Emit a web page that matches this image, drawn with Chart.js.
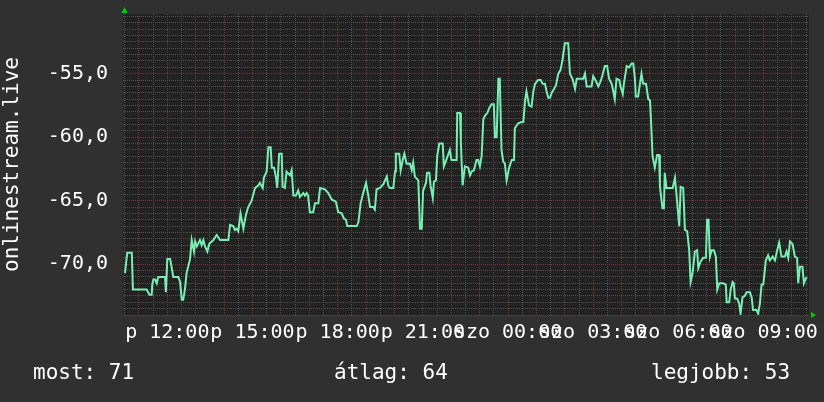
<!DOCTYPE html>
<html lang="hu">
<head>
<meta charset="utf-8">
<title>onlinestream.live</title>
<script src="https://cdn.jsdelivr.net/npm/chart.js@4.4.1/dist/chart.umd.min.js"></script>
<style>
  html, body { margin: 0; padding: 0; background: #303030; }
  #wrap { width: 824px; height: 402px; }
</style>
</head>
<body>
<div id="wrap"><canvas id="signalChart" width="824" height="402"></canvas></div>
<script>
// ===== DATA =====
// idő: órák péntek 0:00-tól számolva (24 felett = szombat)
const times = [
  10.51, 10.55, 10.59, 10.75, 10.79, 11.27, 11.37, 11.45, 11.47, 11.51,
  11.57, 11.63, 11.68, 11.92, 11.95, 12.00, 12.10, 12.15, 12.21, 12.39,
  12.45, 12.51, 12.56, 12.62, 12.68, 12.80, 12.86, 12.94, 12.98, 13.04,
  13.15, 13.21, 13.27, 13.33, 13.41, 13.48, 13.62, 13.74, 13.86, 14.15,
  14.21, 14.32, 14.38, 14.44, 14.50, 14.58, 14.68, 14.77, 14.85, 14.97,
  15.09, 15.20, 15.26, 15.36, 15.40, 15.50, 15.56, 15.64, 15.68, 15.76,
  15.83, 15.87, 15.94, 16.03, 16.06, 16.14, 16.20, 16.32, 16.38, 16.44,
  16.53, 16.61, 16.67, 16.79, 16.85, 16.91, 16.96, 17.02, 17.14, 17.20,
  17.32, 17.38, 17.55, 17.67, 17.79, 17.94, 18.02, 18.14, 18.22, 18.29,
  18.34, 18.67,
  18.73, 18.81, 18.90, 19.00, 19.08, 19.14, 19.25, 19.31, 19.37, 19.49,
  19.61, 19.73, 19.78, 19.84, 19.96, 20.02, 20.05, 20.17, 20.22, 20.29,
  20.35, 20.43, 20.55, 20.61, 20.66, 20.72, 20.84, 20.90, 20.96, 21.01,
  21.11, 21.15, 21.23, 21.27, 21.35, 21.39, 21.46, 21.51, 21.58, 21.70,
  21.74, 21.84, 21.95, 22.01, 22.19, 22.21, 22.31, 22.34, 22.40, 22.48,
  22.60, 22.66, 22.72, 22.80, 22.89, 22.95, 23.01, 23.07, 23.13, 23.19,
  23.27, 23.34, 23.42, 23.50, 23.54, 23.60, 23.66, 23.71, 23.77, 23.83,
  23.89, 23.95, 24.04, 24.13, 24.21, 24.24, 24.36, 24.48, 24.54, 24.60,
  24.65, 24.74, 24.83, 24.89, 24.95, 25.06, 25.15, 25.22, 25.30, 25.36,
  25.42, 25.48, 25.54, 25.62, 25.69, 25.77, 25.85, 25.92, 26.00, 26.12,
  26.18, 26.27, 26.36, 26.42, 26.65, 26.71, 26.77, 26.88, 26.94, 27.00,
  27.10, 27.18, 27.26, 27.33, 27.41, 27.49, 27.56, 27.65, 27.70, 27.76,
  27.82, 27.92, 27.96, 28.04, 28.08, 28.18, 28.27, 28.35, 28.41, 28.47,
  28.50, 28.58, 28.64, 28.70, 28.76, 28.86, 28.94, 29.00, 29.03, 29.09,
  29.17, 29.25, 29.32, 29.35, 29.44, 29.49, 29.52, 29.58, 29.80, 29.88,
  29.94, 30.03, 30.08, 30.17, 30.23, 30.31, 30.38, 30.43, 30.50, 30.58,
  30.66, 30.70, 30.78, 30.87, 30.97, 31.01, 31.06, 31.11, 31.17, 31.25,
  31.32, 31.37, 31.44, 31.58, 31.67, 31.70, 31.79, 31.84, 31.91, 31.95,
  31.99, 32.07, 32.14, 32.19, 32.26, 32.34, 32.40, 32.52, 32.58, 32.63,
  32.75, 32.81, 32.87, 32.93, 32.99, 33.08, 33.16, 33.22, 33.32, 33.40,
  33.48, 33.55, 33.63, 33.75, 33.81, 33.87, 33.93, 34.02, 34.10, 34.18,
  34.22, 34.28, 34.37, 34.42, 34.49, 34.54
];

// jelszint (dB)
const signal = [
  -70.7, -69.9, -69.1, -69.1, -72.0, -72.0, -72.4, -72.4, -71.6, -71.2,
  -71.2, -71.5, -71.0, -71.0, -72.2, -69.6, -69.6, -70.2, -71.0, -71.0,
  -71.4, -72.8, -72.8, -72.0, -70.7, -69.6, -68.1, -69.0, -68.2, -68.6,
  -68.1, -68.5, -68.1, -68.6, -69.0, -68.4, -68.1, -67.7, -68.1, -68.1,
  -66.9, -67.0, -67.3, -67.2, -67.4, -66.0, -67.2, -66.1, -65.5, -65.0,
  -64.0, -63.8, -63.6, -64.0, -63.2, -62.7, -60.8, -60.8, -62.4, -62.4,
  -63.2, -64.0, -61.3, -61.3, -63.9, -64.0, -62.7, -63.0, -62.6, -64.6,
  -64.6, -64.2, -64.7, -64.4, -64.6, -64.4, -64.6, -65.9, -65.9, -65.2,
  -65.2, -64.0, -64.1, -64.4, -64.9, -65.1, -65.9, -66.0, -66.4, -66.5,
  -67.0, -67.0,
  -66.7, -65.2, -64.4, -63.6, -64.6, -65.5, -65.5, -65.7, -64.1, -64.0,
  -63.7, -63.1, -63.8, -64.0, -64.0, -62.7, -61.3, -61.3, -62.6, -61.8,
  -61.3, -62.1, -62.1, -62.6, -62.0, -63.1, -63.4, -67.2, -67.2, -64.2,
  -63.6, -62.8, -62.8, -63.8, -64.8, -63.5, -63.4, -61.4, -60.5, -60.5,
  -62.3, -61.7, -61.0, -61.8, -61.8, -58.1, -58.1, -60.5, -63.8, -62.3,
  -62.4, -63.0, -62.7, -62.6, -61.8, -61.8, -62.3, -61.5, -58.6, -58.3,
  -58.1, -57.7, -57.4, -57.4, -60.0, -60.0, -55.4, -55.4, -61.0, -61.9,
  -62.1, -63.4, -62.4, -61.8, -61.8, -59.3, -58.9, -58.8, -58.8, -57.1,
  -56.4, -57.5, -57.6, -56.4, -55.8, -55.5, -55.5, -55.8, -55.8, -56.4,
  -56.9, -56.9, -56.5, -56.2, -55.9, -55.0, -54.7, -53.9, -52.6, -52.6,
  -55.0, -55.4, -56.2, -55.4, -55.4, -55.0, -56.0, -56.0, -56.0, -55.2,
  -55.6, -56.0, -55.6, -55.1, -54.4, -54.4, -55.4, -55.8, -56.3, -57.0,
  -55.4, -55.5, -56.0, -56.6, -55.8, -54.4, -54.5, -54.2, -54.2, -55.4,
  -56.8, -56.8, -55.9, -55.0, -55.8, -55.8, -57.0, -57.1, -58.4, -61.5,
  -62.4, -61.4, -61.4, -63.9, -65.6, -65.6, -62.8, -64.0, -64.0, -63.2,
  -64.7, -67.0, -63.9, -64.0, -67.3, -67.4, -68.9, -71.4, -70.7, -69.0,
  -68.9, -70.3, -69.8, -69.5, -69.5, -66.5, -66.5, -69.4, -68.9, -68.9,
  -69.4, -72.0, -71.5, -71.5, -71.6, -73.0, -73.0, -72.0, -71.4, -71.5,
  -72.7, -72.7, -73.1, -73.9, -72.6, -72.5, -72.2, -72.2, -72.6, -73.6,
  -73.6, -73.9, -73.1, -71.6, -71.6, -69.7, -69.3, -69.7, -69.4, -69.7,
  -68.9, -68.3, -69.4, -69.4, -69.0, -69.5, -68.2, -68.4, -69.4, -69.5,
  -71.5, -70.2, -70.2, -71.5, -71.1, -71.1
];

const dayNames = ["p", "szo"];
const labelHours = [12, 15, 18, 21, 24, 27, 30, 33];
const summaryLabels = ["most", "átlag", "legjobb"];
const summaryValues = [71, 64, 53];

// ===== BEÁLLÍTÁSOK =====
const X_MIN = 10.44, X_MAX = 34.6;
const Y_MIN = -74, Y_MAX = -50.3;
const FONT = '"DejaVu Sans Mono", monospace';
const GRID = "#505050";
const MGRID = "#6e3838";
const LINE = "#78eeb4";

function halfSteps(from, to) {
  const out = [];
  for (let v = from; v <= to + 1e-9; v += 0.5) out.push({ value: v });
  return out;
}

function xLabel(value) {
  if (!labelHours.includes(value)) return "";
  const day = dayNames[value < 24 ? 0 : 1];
  const hh = String(value % 24).padStart(2, "0");
  return day + " " + hh + ":00";
}

function yLabel(value) {
  if (Math.abs(value % 5) > 1e-9) return "";
  return value.toFixed(1).replace(".", ",");
}

// Háttér, nyilak és az összesítő sor
const rrdFrame = {
  id: "rrdFrame",
  beforeDraw(chart) {
    const { ctx, chartArea: a, width, height } = chart;
    ctx.save();
    ctx.fillStyle = "#303030";
    ctx.fillRect(0, 0, width, height);
    ctx.fillStyle = "#222222";
    ctx.fillRect(a.left, a.top, a.right - a.left, a.bottom - a.top);
    ctx.restore();
  },
  afterDraw(chart) {
    const { ctx, chartArea: a } = chart;
    ctx.save();
    ctx.fillStyle = "#00cc00";
    ctx.beginPath();
    ctx.moveTo(a.left + 1.5, a.top - 7);
    ctx.lineTo(a.left - 1.5, a.top - 1);
    ctx.lineTo(a.left + 4.5, a.top - 1);
    ctx.closePath();
    ctx.fill();
    ctx.beginPath();
    ctx.moveTo(a.right + 7, a.bottom);
    ctx.lineTo(a.right + 2, a.bottom - 3);
    ctx.lineTo(a.right + 2, a.bottom + 3);
    ctx.closePath();
    ctx.fill();

    ctx.fillStyle = "#ffffff";
    ctx.font = "21px " + FONT;
    ctx.textBaseline = "middle";
    const xs = [33, 334, 651];
    summaryLabels.forEach((label, i) => {
      ctx.fillText(label + ": " + summaryValues[i], xs[i], 374);
    });
    ctx.restore();
  }
};

new Chart(document.getElementById("signalChart"), {
  type: "line",
  data: {
    datasets: [
      {
        label: "onlinestream.live",
        data: times.map((t, i) => ({ x: t, y: signal[i] })),
        borderColor: LINE,
        borderWidth: 2,
        pointRadius: 0,
        tension: 0,
        fill: false
      }
    ]
  },
  options: {
    responsive: false,
    animation: false,
    layout: { padding: { left: 0, right: 15, top: 14, bottom: 0 } },
    plugins: {
      legend: { display: false },
      tooltip: { enabled: false }
    },
    scales: {
      x: {
        type: "linear",
        min: X_MIN,
        max: X_MAX,
        afterFit: (s) => {
          s.height = 87;
          s.paddingLeft = 0;
          s.paddingRight = 0;
        },
        afterBuildTicks: (s) => { s.ticks = halfSteps(10.5, 34.5); },
        grid: {
          color: (c) => (Number.isInteger(c.tick.value) ? MGRID : GRID),
          drawTicks: false
        },
        border: { display: false, dash: [1, 1] },
        ticks: {
          autoSkip: false,
          maxRotation: 0,
          minRotation: 0,
          padding: 6,
          color: "#ffffff",
          font: { family: FONT, size: 20 },
          callback: xLabel
        }
      },
      y: {
        type: "linear",
        min: Y_MIN,
        max: Y_MAX,
        afterFit: (s) => {
          s.width = 123;
          s.paddingTop = 0;
          s.paddingBottom = 0;
        },
        afterBuildTicks: (s) => { s.ticks = halfSteps(-74, -50.5); },
        grid: {
          color: (c) => (Math.abs(c.tick.value % 5) < 1e-9 ? MGRID : GRID),
          drawTicks: false
        },
        border: { display: false, dash: [1, 1] },
        ticks: {
          autoSkip: false,
          padding: 15,
          color: "#ffffff",
          font: { family: FONT, size: 20 },
          callback: yLabel
        },
        title: {
          display: true,
          text: "onlinestream.live",
          color: "#ffffff",
          font: { family: FONT, size: 21 },
          padding: 0
        }
      }
    }
  },
  plugins: [rrdFrame]
});
</script>
</body>
</html>
